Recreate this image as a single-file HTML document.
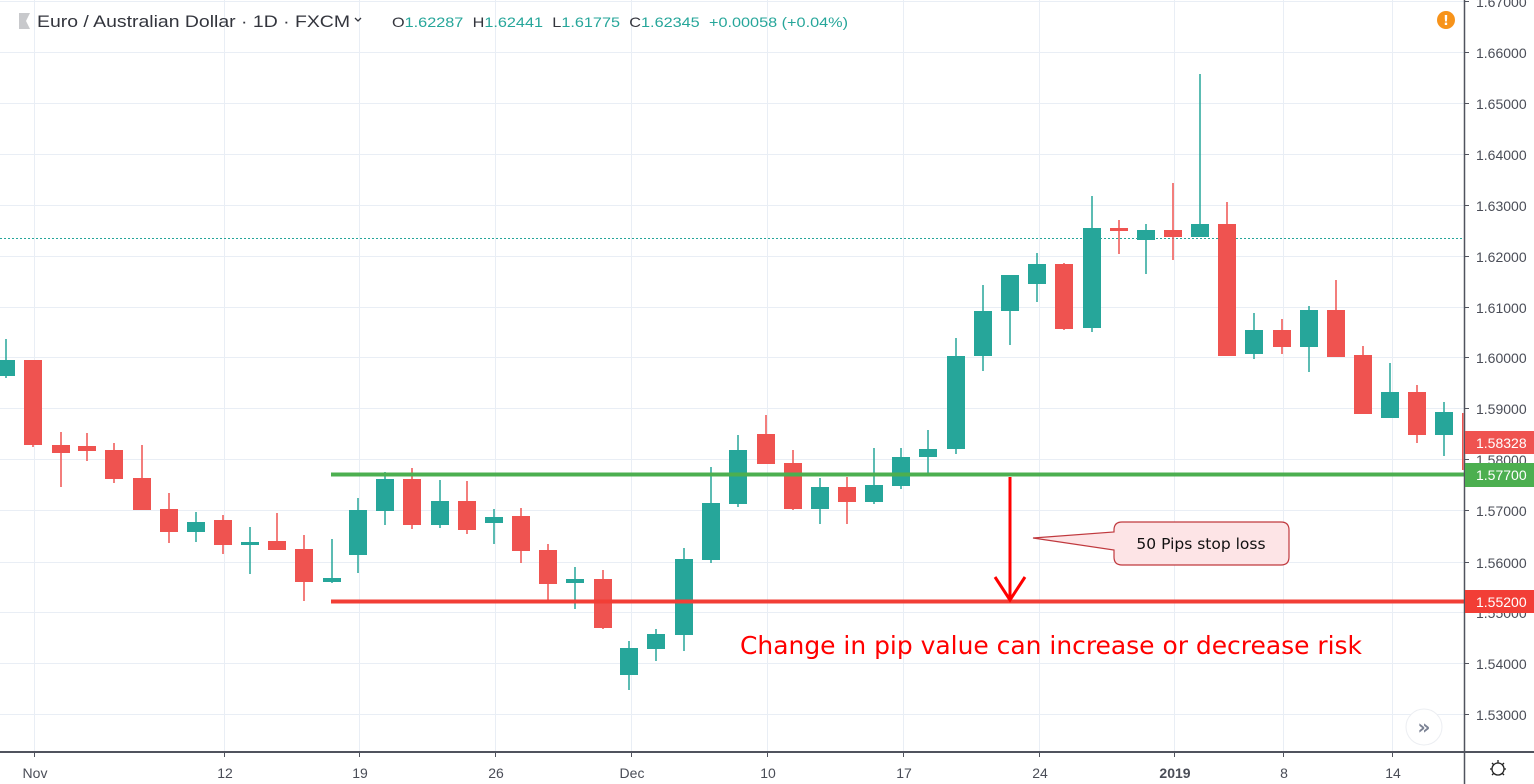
<!DOCTYPE html>
<html><head><meta charset="utf-8"><style>
html,body{margin:0;padding:0;background:#fff;}
svg{display:block;font-family:"DejaVu Sans","Liberation Sans",sans-serif;}
</style></head><body>
<svg width="1534" height="784" viewBox="0 0 1534 784" xmlns="http://www.w3.org/2000/svg">
<rect width="1534" height="784" fill="#fff"/>
<g stroke="#e9eef5" stroke-width="1">
<line x1="0" y1="1.5" x2="1464" y2="1.5"/>
<line x1="0" y1="52.5" x2="1464" y2="52.5"/>
<line x1="0" y1="103.5" x2="1464" y2="103.5"/>
<line x1="0" y1="154.5" x2="1464" y2="154.5"/>
<line x1="0" y1="205.5" x2="1464" y2="205.5"/>
<line x1="0" y1="256.5" x2="1464" y2="256.5"/>
<line x1="0" y1="307.5" x2="1464" y2="307.5"/>
<line x1="0" y1="357.5" x2="1464" y2="357.5"/>
<line x1="0" y1="408.5" x2="1464" y2="408.5"/>
<line x1="0" y1="459.5" x2="1464" y2="459.5"/>
<line x1="0" y1="510.5" x2="1464" y2="510.5"/>
<line x1="0" y1="562.5" x2="1464" y2="562.5"/>
<line x1="0" y1="612.5" x2="1464" y2="612.5"/>
<line x1="0" y1="663.5" x2="1464" y2="663.5"/>
<line x1="0" y1="714.5" x2="1464" y2="714.5"/>
<line x1="34.5" y1="0" x2="34.5" y2="752"/>
<line x1="224.5" y1="0" x2="224.5" y2="752"/>
<line x1="359.5" y1="0" x2="359.5" y2="752"/>
<line x1="495.5" y1="0" x2="495.5" y2="752"/>
<line x1="631.5" y1="0" x2="631.5" y2="752"/>
<line x1="767.5" y1="0" x2="767.5" y2="752"/>
<line x1="903.5" y1="0" x2="903.5" y2="752"/>
<line x1="1039.5" y1="0" x2="1039.5" y2="752"/>
<line x1="1174.5" y1="0" x2="1174.5" y2="752"/>
<line x1="1283.5" y1="0" x2="1283.5" y2="752"/>
<line x1="1392.5" y1="0" x2="1392.5" y2="752"/>
</g>
<line x1="0" y1="238.5" x2="1464" y2="238.5" stroke="#26a69a" stroke-width="1" stroke-dasharray="2,2"/>
<g fill="#26a69a">
<rect x="5.25" y="339" width="1.5" height="39"/><rect x="-3" y="360" width="18" height="16"/>
<rect x="195.25" y="512" width="1.5" height="30"/><rect x="187" y="522" width="18" height="10"/>
<rect x="249.25" y="527" width="1.5" height="47"/><rect x="241" y="542" width="18" height="3"/>
<rect x="331.25" y="539" width="1.5" height="44"/><rect x="323" y="578" width="18" height="4"/>
<rect x="357.25" y="498" width="1.5" height="75"/><rect x="349" y="510" width="18" height="45"/>
<rect x="384.25" y="472" width="1.5" height="53"/><rect x="376" y="479" width="18" height="32"/>
<rect x="439.25" y="480" width="1.5" height="48"/><rect x="431" y="501" width="18" height="24"/>
<rect x="493.25" y="509" width="1.5" height="35"/><rect x="485" y="517" width="18" height="6"/>
<rect x="574.25" y="567" width="1.5" height="42"/><rect x="566" y="579" width="18" height="4"/>
<rect x="628.25" y="641" width="1.5" height="49"/><rect x="620" y="648" width="18" height="27"/>
<rect x="655.25" y="629" width="1.5" height="32"/><rect x="647" y="634" width="18" height="15"/>
<rect x="683.25" y="548" width="1.5" height="103"/><rect x="675" y="559" width="18" height="76"/>
<rect x="710.25" y="467" width="1.5" height="96"/><rect x="702" y="503" width="18" height="57"/>
<rect x="737.25" y="435" width="1.5" height="72"/><rect x="729" y="450" width="18" height="54"/>
<rect x="819.25" y="478" width="1.5" height="46"/><rect x="811" y="487" width="18" height="22"/>
<rect x="873.25" y="448" width="1.5" height="56"/><rect x="865" y="485" width="18" height="17"/>
<rect x="900.25" y="448" width="1.5" height="41"/><rect x="892" y="457" width="18" height="29"/>
<rect x="927.25" y="430" width="1.5" height="46"/><rect x="919" y="449" width="18" height="8"/>
<rect x="955.25" y="338" width="1.5" height="116"/><rect x="947" y="356" width="18" height="93"/>
<rect x="982.25" y="285" width="1.5" height="86"/><rect x="974" y="311" width="18" height="45"/>
<rect x="1009.25" y="275" width="1.5" height="70"/><rect x="1001" y="275" width="18" height="36"/>
<rect x="1036.25" y="253" width="1.5" height="49"/><rect x="1028" y="264" width="18" height="20"/>
<rect x="1091.25" y="196" width="1.5" height="136"/><rect x="1083" y="228" width="18" height="100"/>
<rect x="1145.25" y="224" width="1.5" height="50"/><rect x="1137" y="230" width="18" height="10"/>
<rect x="1199.25" y="74" width="1.5" height="163"/><rect x="1191" y="224" width="18" height="13"/>
<rect x="1253.25" y="313" width="1.5" height="46"/><rect x="1245" y="330" width="18" height="24"/>
<rect x="1308.25" y="306" width="1.5" height="66"/><rect x="1300" y="310" width="18" height="37"/>
<rect x="1389.25" y="363" width="1.5" height="55"/><rect x="1381" y="392" width="18" height="26"/>
<rect x="1443.25" y="402" width="1.5" height="54"/><rect x="1435" y="412" width="18" height="23"/>
</g>
<g fill="#ef5350">
<rect x="32.25" y="360" width="1.5" height="87"/><rect x="24" y="360" width="18" height="85"/>
<rect x="60.25" y="432" width="1.5" height="55"/><rect x="52" y="445" width="18" height="8"/>
<rect x="86.25" y="433" width="1.5" height="28"/><rect x="78" y="446" width="18" height="5"/>
<rect x="113.25" y="443" width="1.5" height="40"/><rect x="105" y="450" width="18" height="29"/>
<rect x="141.25" y="445" width="1.5" height="65"/><rect x="133" y="478" width="18" height="32"/>
<rect x="168.25" y="493" width="1.5" height="50"/><rect x="160" y="509" width="18" height="23"/>
<rect x="222.25" y="515" width="1.5" height="39"/><rect x="214" y="520" width="18" height="25"/>
<rect x="276.25" y="513" width="1.5" height="37"/><rect x="268" y="541" width="18" height="9"/>
<rect x="303.25" y="535" width="1.5" height="66"/><rect x="295" y="549" width="18" height="33"/>
<rect x="411.25" y="468" width="1.5" height="61"/><rect x="403" y="479" width="18" height="46"/>
<rect x="466.25" y="481" width="1.5" height="53"/><rect x="458" y="501" width="18" height="29"/>
<rect x="520.25" y="508" width="1.5" height="55"/><rect x="512" y="516" width="18" height="35"/>
<rect x="547.25" y="544" width="1.5" height="58"/><rect x="539" y="550" width="18" height="34"/>
<rect x="602.25" y="570" width="1.5" height="59"/><rect x="594" y="579" width="18" height="49"/>
<rect x="765.25" y="415" width="1.5" height="49"/><rect x="757" y="434" width="18" height="30"/>
<rect x="792.25" y="450" width="1.5" height="60"/><rect x="784" y="463" width="18" height="46"/>
<rect x="846.25" y="477" width="1.5" height="47"/><rect x="838" y="487" width="18" height="15"/>
<rect x="1063.25" y="263" width="1.5" height="67"/><rect x="1055" y="264" width="18" height="65"/>
<rect x="1118.25" y="220" width="1.5" height="34"/><rect x="1110" y="228" width="18" height="3"/>
<rect x="1172.25" y="183" width="1.5" height="77"/><rect x="1164" y="230" width="18" height="7"/>
<rect x="1226.25" y="202" width="1.5" height="154"/><rect x="1218" y="224" width="18" height="132"/>
<rect x="1281.25" y="319" width="1.5" height="35"/><rect x="1273" y="330" width="18" height="17"/>
<rect x="1335.25" y="280" width="1.5" height="77"/><rect x="1327" y="310" width="18" height="47"/>
<rect x="1362.25" y="346" width="1.5" height="68"/><rect x="1354" y="355" width="18" height="59"/>
<rect x="1416.25" y="385" width="1.5" height="58"/><rect x="1408" y="392" width="18" height="43"/>
<rect x="1462" y="413" width="1.5" height="57"/>
</g>
<rect x="1464" y="0" width="70" height="784" fill="#fff"/>
<rect x="0" y="752" width="1534" height="32" fill="#fff"/>
<rect x="331" y="472.5" width="1133" height="4" fill="#4caf50"/>
<rect x="331" y="599.5" width="1133" height="4" fill="#f23e36"/>
<line x1="1010" y1="477" x2="1010" y2="600" stroke="#ff0000" stroke-width="3"/>
<polyline points="995,577 1010,600 1025,577" fill="none" stroke="#ff0000" stroke-width="3"/>
<path d="M1122,522 H1281 Q1289,522 1289,530 V557 Q1289,565 1281,565 H1122 Q1114,565 1114,557 V550 L1033,538 L1114,532 V530 Q1114,522 1122,522 Z" fill="#fde4e6" stroke="#c0393e" stroke-width="1.2"/>
<text x="1201" y="549" font-size="15.5" fill="#111" text-anchor="middle">50 Pips stop loss</text>
<text x="740" y="654" font-size="24.5" fill="#ff0000" textLength="622" lengthAdjust="spacingAndGlyphs">Change in pip value can increase or decrease risk</text>
<line x1="1464.5" y1="0" x2="1464.5" y2="784" stroke="#50535e" stroke-width="1.5"/>
<line x1="0" y1="752" x2="1534" y2="752" stroke="#50535e" stroke-width="2"/>
<g font-size="14" fill="#4a4d57" font-family="'Liberation Sans',sans-serif">
<g stroke="#50535e" stroke-width="1">
<line x1="1465" y1="1.5" x2="1469" y2="1.5"/><line x1="1465" y1="52.5" x2="1469" y2="52.5"/><line x1="1465" y1="103.5" x2="1469" y2="103.5"/><line x1="1465" y1="154.5" x2="1469" y2="154.5"/><line x1="1465" y1="205.5" x2="1469" y2="205.5"/><line x1="1465" y1="256.5" x2="1469" y2="256.5"/><line x1="1465" y1="307.5" x2="1469" y2="307.5"/><line x1="1465" y1="357.5" x2="1469" y2="357.5"/><line x1="1465" y1="408.5" x2="1469" y2="408.5"/><line x1="1465" y1="459.5" x2="1469" y2="459.5"/><line x1="1465" y1="510.5" x2="1469" y2="510.5"/><line x1="1465" y1="562.5" x2="1469" y2="562.5"/><line x1="1465" y1="612.5" x2="1469" y2="612.5"/><line x1="1465" y1="663.5" x2="1469" y2="663.5"/><line x1="1465" y1="714.5" x2="1469" y2="714.5"/>
</g>
<text x="1476" y="7">1.67000</text>
<text x="1476" y="58">1.66000</text>
<text x="1476" y="109">1.65000</text>
<text x="1476" y="160">1.64000</text>
<text x="1476" y="211">1.63000</text>
<text x="1476" y="262">1.62000</text>
<text x="1476" y="313">1.61000</text>
<text x="1476" y="363">1.60000</text>
<text x="1476" y="414">1.59000</text>
<text x="1476" y="465">1.58000</text>
<text x="1476" y="516">1.57000</text>
<text x="1476" y="568">1.56000</text>
<text x="1476" y="618">1.55000</text>
<text x="1476" y="669">1.54000</text>
<text x="1476" y="720">1.53000</text>
</g>
<g font-size="14" fill="#fff" font-family="'Liberation Sans',sans-serif">
<rect x="1465" y="431" width="69" height="23" fill="#ef5350"/>
<text x="1476" y="448">1.58328</text>
<rect x="1465" y="463" width="69" height="24" fill="#4caf50"/>
<text x="1476" y="480">1.57700</text>
<rect x="1465" y="590" width="69" height="23" fill="#f23e36"/>
<text x="1476" y="607">1.55200</text>
</g>
<g stroke="#50535e" stroke-width="1">
<line x1="34.5" y1="752" x2="34.5" y2="757"/><line x1="224.5" y1="752" x2="224.5" y2="757"/><line x1="359.5" y1="752" x2="359.5" y2="757"/><line x1="495.5" y1="752" x2="495.5" y2="757"/><line x1="631.5" y1="752" x2="631.5" y2="757"/><line x1="767.5" y1="752" x2="767.5" y2="757"/><line x1="903.5" y1="752" x2="903.5" y2="757"/><line x1="1039.5" y1="752" x2="1039.5" y2="757"/><line x1="1174.5" y1="752" x2="1174.5" y2="757"/><line x1="1283.5" y1="752" x2="1283.5" y2="757"/><line x1="1392.5" y1="752" x2="1392.5" y2="757"/>
</g>
<g font-size="14" fill="#4a4d57" text-anchor="middle" font-family="'Liberation Sans',sans-serif">
<text x="35" y="778">Nov</text><text x="225" y="778">12</text><text x="360" y="778">19</text><text x="496" y="778">26</text><text x="632" y="778">Dec</text><text x="768" y="778">10</text><text x="904" y="778">17</text><text x="1040" y="778">24</text><text x="1175" y="778" font-weight="bold">2019</text><text x="1284" y="778">8</text><text x="1393" y="778">14</text>
</g>
<circle cx="1498" cy="769" r="6" fill="none" stroke="#222" stroke-width="1.3"/>
<g stroke="#222" stroke-width="1.3"><line x1="1498" y1="760" x2="1498" y2="763"/><line x1="1490" y1="769" x2="1492" y2="769"/><line x1="1504" y1="769" x2="1506" y2="769"/><line x1="1492" y1="763" x2="1494" y2="765"/><line x1="1504" y1="763" x2="1502" y2="765"/><line x1="1492" y1="775" x2="1494" y2="773"/><line x1="1504" y1="775" x2="1502" y2="773"/></g>
<circle cx="1424" cy="727" r="18" fill="#fff" stroke="#eceef2" stroke-width="1"/>
<text x="1424" y="734" font-size="20" fill="#7b8294" text-anchor="middle" font-weight="bold">»</text>
<path d="M19,13 H30 L26,21 L30,29 H19 Z" fill="#c8c9cc"/>
<text x="37" y="27" font-size="17" fill="#33353d" font-family="'Liberation Sans',sans-serif" textLength="313" lengthAdjust="spacingAndGlyphs">Euro / Australian Dollar · 1D · FXCM</text>
<path d="M355,18 L358,21 L361,18" fill="none" stroke="#33353d" stroke-width="1.3"/>
<g font-size="14" font-family="'Liberation Sans',sans-serif">
<text x="392" y="27" textLength="456" lengthAdjust="spacingAndGlyphs"><tspan fill="#33353d">O</tspan><tspan fill="#26a69a">1.62287</tspan><tspan fill="#33353d" dx="8">H</tspan><tspan fill="#26a69a">1.62441</tspan><tspan fill="#33353d" dx="8">L</tspan><tspan fill="#26a69a">1.61775</tspan><tspan fill="#33353d" dx="8">C</tspan><tspan fill="#26a69a">1.62345</tspan><tspan fill="#26a69a" dx="8">+0.00058 (+0.04%)</tspan></text>
</g>
<circle cx="1446" cy="20" r="9" fill="#f7931a"/>
<text x="1446" y="25" font-size="13" fill="#fff" text-anchor="middle" font-weight="bold">!</text>
</svg>
</body></html>
